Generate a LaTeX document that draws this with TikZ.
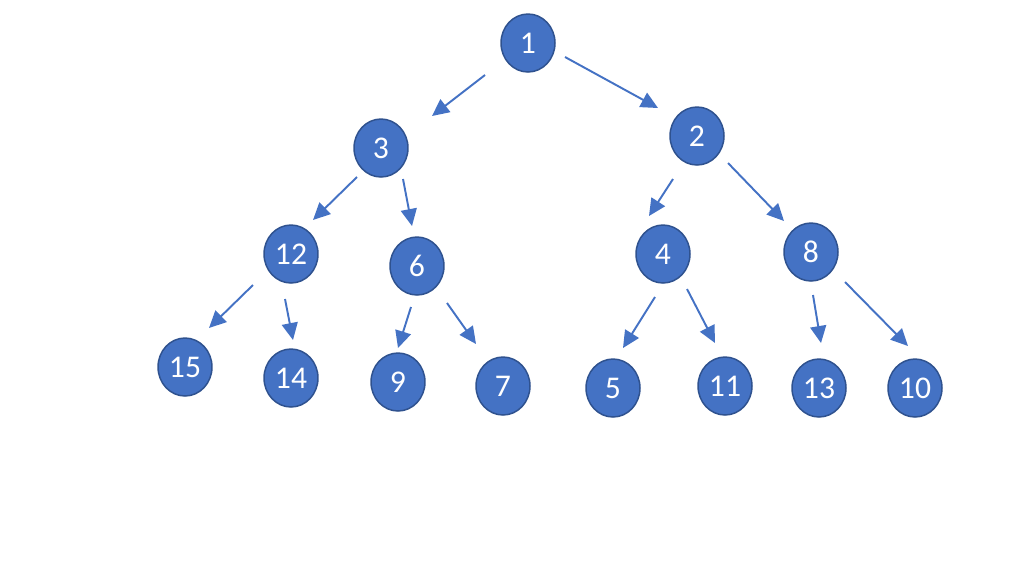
\documentclass[tikz,border=0pt]{standalone}
\usepackage{fontspec}
\setmainfont{Carlito}
\usetikzlibrary{arrows.meta,shapes.geometric}
\definecolor{nodeblue}{HTML}{4472C4}
\definecolor{rimblue}{HTML}{2F528F}
\tikzset{
	heapnode/.style={ellipse, fill=nodeblue, draw=rimblue, line width=0.85pt,
		minimum width=1.08cm, minimum height=1.16cm, inner sep=0pt,
		text=white, font=\fontsize{18}{18}\selectfont},
	heaparrow/.style={nodeblue, line width=1.1pt,
		-{Triangle[length=0.34cm,width=0.32cm]}}
}
\begin{document}
\begin{tikzpicture}[x=0.02cm, y=-0.02cm]
			\useasboundingbox (0,0) rectangle (1010,586);
			% levels of the heap
			\node[heapnode] (n1) at (528,43) {1};
			\node[heapnode] (n3) at (381,148) {3};
			\node[heapnode] (n2) at (697,136) {2};
			\node[heapnode] (n12) at (291,254) {12};
			\node[heapnode] (n6) at (417,266) {6};
			\node[heapnode] (n4) at (663,254) {4};
			\node[heapnode] (n8) at (811,252) {8};
			\node[heapnode] (n15) at (185,367) {15};
			\node[heapnode] (n14) at (291,378) {14};
			\node[heapnode] (n9) at (398,382) {9};
			\node[heapnode] (n7) at (503,386) {7};
			\node[heapnode] (n5) at (613,388) {5};
			\node[heapnode] (n11) at (725,386) {11};
			\node[heapnode] (n13) at (819,388) {13};
			\node[heapnode] (n10) at (915,388) {10};
			% parent -> child, ends set off from the centres
			\foreach \a/\sx/\sy/\b/\ex/\ey in {n1/-43/32/n3/51/-32, n1/37/14/n2/-39/-28,
				n3/-24/29/n12/22/-34, n3/22/31/n6/-5/-40,
				n2/-24/43/n4/-14/-38, n2/31/27/n8/-27/-31,
				n12/-38/31/n15/24/-39, n12/-6/45/n14/2/-38,
				n6/-6/41/n9/0/-34, n6/30/37/n7/-27/-42,
				n4/-8/43/n5/10/-40, n4/24/35/n11/-10/-43,
				n8/2/43/n13/2/-45, n8/34/30/n10/-7/-42}
				{
					\draw[heaparrow] ([shift={(\sx,\sy)}]\a.center) -- ([shift={(\ex,\ey)}]\b.center);
				}
		\end{tikzpicture}
\end{document}
